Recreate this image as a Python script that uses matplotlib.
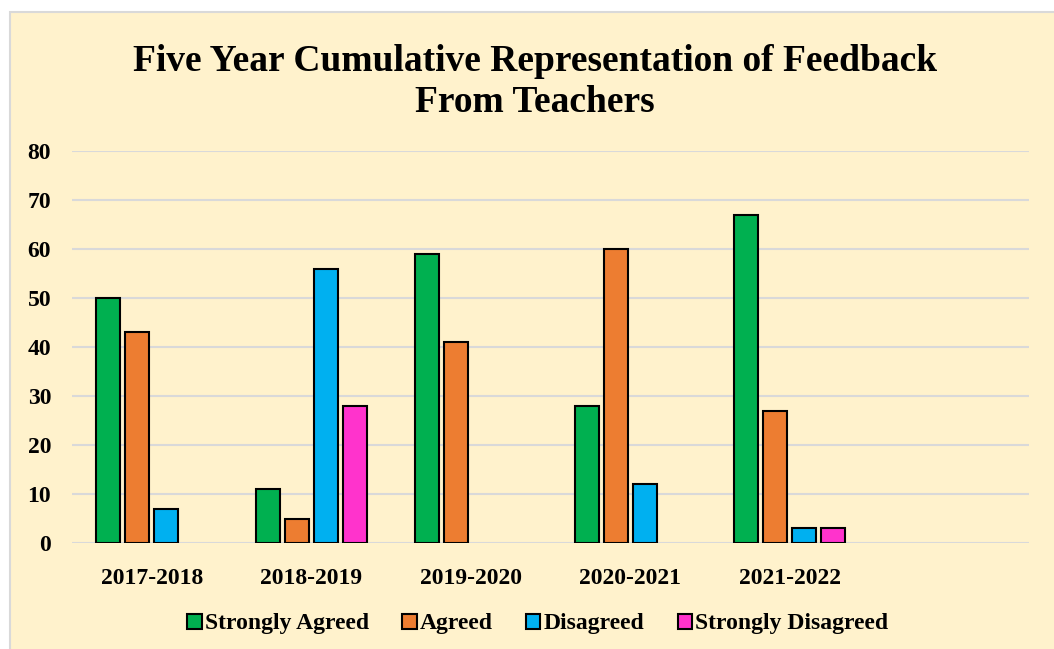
import numpy as np
import matplotlib.pyplot as plt
from matplotlib.patches import Rectangle

plt.rcParams['font.family'] = 'Liberation Serif'
plt.rcParams['font.weight'] = 'bold'

years = ['2017-2018', '2018-2019', '2019-2020', '2020-2021', '2021-2022', '']
series = ['Strongly Agreed', 'Agreed', 'Disagreed', 'Strongly Disagreed']
strongly_agreed = [50, 11, 59, 28, 67, 0]
agreed = [43, 5, 41, 60, 27, 0]
disagreed = [7, 56, 0, 12, 3, 0]
strongly_disagreed = [0, 28, 0, 0, 3, 0]
colors = ['#00B050', '#ED7D31', '#00B0F0', '#FF33CC']

fig = plt.figure(figsize=(10.54, 6.49), dpi=100)
fig.patch.set_facecolor('white')
fig.patches.append(Rectangle((10/1054, -0.05), 1.1, 1 - 12/649 + 0.05,
                             transform=fig.transFigure, facecolor='#FFF2CC',
                             edgecolor='#D9D9D9', linewidth=1.5, zorder=-10))

ax = fig.add_axes([72/1054, 1 - 543/649, (1029-72)/1054, (543-151)/649])
ax.set_facecolor('none')

x = np.arange(len(years))
slot = 0.182
w = 0.15
for i, (vals, name) in enumerate(zip([strongly_agreed, agreed, disagreed, strongly_disagreed], series)):
    v = np.array(vals, dtype=float)
    ax.bar(x + (i - 1.5) * slot, np.where(v > 0, v, np.nan), width=w, color=colors[i],
           edgecolor='black', linewidth=1.5, label=name, zorder=3)

ax.set_xlim(-0.5, 5.5)
ax.set_ylim(0, 80)
ax.set_yticks(range(0, 81, 10))
ax.set_xticks(x)
ax.set_xticklabels(years)
ax.grid(axis='y', color='#D9D9D9', linewidth=1.5, zorder=0)
for s in ax.spines.values():
    s.set_visible(False)
ax.tick_params(axis='both', length=0, labelsize=17)
ax.tick_params(axis='y', pad=15)
ax.tick_params(axis='x', pad=18)

fig.text(535/1054, 1 - 82/649, 'Five Year Cumulative Representation of Feedback\nFrom Teachers',
         ha='center', va='center', fontsize=27, fontweight='bold', linespacing=1.2)

ax.legend(loc='center', bbox_to_anchor=(538/1054, 1 - 624/649), bbox_transform=fig.transFigure,
          ncol=4, frameon=False, fontsize=17, handlelength=0.6, handleheight=0.6,
          handletextpad=0.15, columnspacing=1.4)

fig.savefig('out.png', dpi=100)
